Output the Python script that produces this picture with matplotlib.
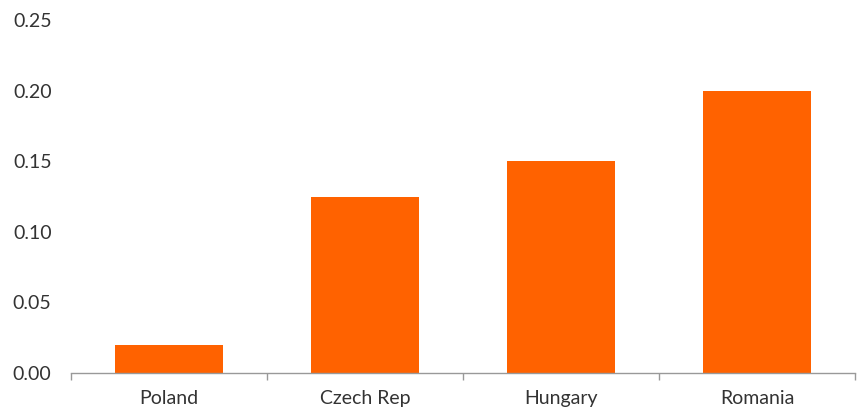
import matplotlib
matplotlib.use("Agg")
import matplotlib.pyplot as plt
import numpy as np

categories = ["Poland", "Czech Rep", "Hungary", "Romania"]
values = [0.02, 0.125, 0.15, 0.20]
yticks = [0.00, 0.05, 0.10, 0.15, 0.20, 0.25]

plt.rcParams['font.family'] = ['Lato', 'DejaVu Sans']

fig = plt.figure(figsize=(8.6, 4.12), dpi=100)
ax = fig.add_axes([0.0826, 0.0947, 0.9116, 0.8563])

x = np.arange(len(categories))
ax.bar(x, values, width=0.55, color="#FF6200", zorder=2)

ax.set_xlim(-0.5, len(categories) - 0.5)
ax.set_ylim(0, 0.25)
ax.set_yticks(yticks)
ax.set_yticklabels([f"{v:.2f}" for v in yticks], fontsize=14, color="#333333")

ax.set_xticks(x)
ax.set_xticklabels(categories, fontsize=14, color="#333333")
ax.tick_params(axis="x", which="major", length=0, pad=12)
ax.tick_params(axis="y", length=0, pad=14)
ax.set_xticks(np.arange(-0.5, len(categories), 1.0), minor=True)
ax.tick_params(axis="x", which="minor", length=5, color="#999999", width=1)

for s in ["top", "right", "left"]:
    ax.spines[s].set_visible(False)
ax.spines["bottom"].set_color("#999999")
ax.spines["bottom"].set_linewidth(1)

fig.savefig("out.png", dpi=100, facecolor="white")
